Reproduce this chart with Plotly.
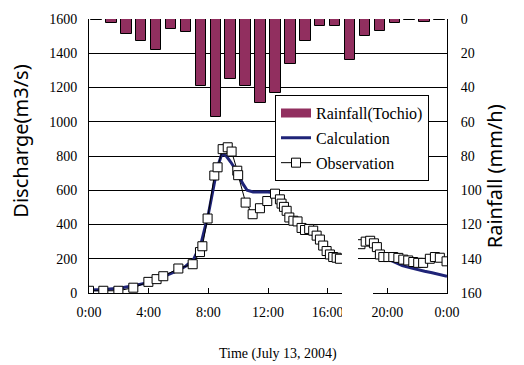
import plotly.graph_objects as go

# ---- data ----
rain_time = [h + 0.5 for h in range(24)]
rain_mm = [0.5, 2.5, 9, 13, 18, 6, 7.5, 39, 57, 35, 39, 49, 43, 26, 13, 4, 4, 24, 10, 7, 2.5, 0.5, 2, 0.5]

calc_time = [0, 1, 2, 3, 4, 5, 6, 6.5, 7, 7.5, 8, 8.3, 8.6, 8.9, 9.2, 9.5, 9.9, 10.3, 10.6, 11, 12, 12.5,
             12.8, 13.1, 13.5, 14, 14.5, 15, 15.5, 16, 16.5, 16.8, None,
             19.2, 19.6, 20, 20.5, 21, 21.5, 22, 22.5, 23, 23.5, 24]
calc_q = [18, 20, 28, 42, 62, 95, 133, 158, 195, 285, 460, 600, 730, 812, 800, 765, 711, 640, 600, 590, 590, 585,
          545, 495, 445, 410, 375, 340, 295, 250, 215, 195, None,
          232, 215, 198, 178, 160, 148, 136, 127, 118, 108, 98]

obs_time = [0, 0.96, 1.97, 2.97, 3.98, 4.53, 4.98, 5.99, 6.95, 7.44, 7.6, 7.95, 8.4, 8.62, 8.96, 9.3, 9.56,
            9.94, 10.0, 10.5, 10.97, 11.46, 11.95, 12.47, 12.8, 12.91, 13.07, 13.25, 13.43, 13.7, 13.98,
            14.25, 14.48, 14.76, 15.03, 15.26, 15.48, 15.7, 15.93, 16.15, 16.37, 16.6, 16.82, None,
            18.2, 18.55, 18.85, 19.1, 19.3, 19.5, 19.73, 20.07, 20.4, 20.74, 21.07, 21.4, 21.74, 22.07,
            22.4, 22.85, 23.19, 23.52, 23.97]
obs_q = [13, 13, 13, 31, 65, 81, 98, 143, 168, 239, 273, 435, 686, 734, 840, 851, 826,
         714, 688, 528, 460, 495, 537, 580, 547, 522, 503, 480, 441, 422, 418,
         380, 368, 374, 364, 335, 312, 277, 245, 225, 210, 206, 200, None,
         285, 300, 305, 290, 268, 225, 210, 210, 210, 205, 195, 190, 181, 176,
         176, 200, 210, 206, 185]

tick_vals = [0, 4, 8, 12, 16, 20, 24]
tick_text = ["0:00", "4:00", "8:00", "12:00", "16:00", "20:00", "0:00"]

SERIF = "Liberation Serif"
SANS = "Noto Sans"
BAR_COLOR = "#912F5F"

fig = go.Figure()
fig.add_trace(go.Bar(x=rain_time, y=rain_mm, yaxis="y2", name="Rainfall(Tochio)",
                     width=0.7, marker=dict(color=BAR_COLOR, line=dict(color="black", width=1)),
                     showlegend=False))
# legend-only entry giving the wide rectangle key of the bars
fig.add_trace(go.Scatter(x=[None], y=[None], yaxis="y2", mode="lines", name="Rainfall(Tochio)",
                         line=dict(color=BAR_COLOR, width=9), legendgroup="a", hoverinfo="skip"))
fig.add_trace(go.Scatter(x=calc_time, y=calc_q, mode="lines", name="Calculation",
                         line=dict(color="#1F2478", width=3), connectgaps=False, legendgroup="b"))
fig.add_trace(go.Scatter(x=obs_time, y=obs_q, mode="lines+markers", name="Observation",
                         line=dict(color="black", width=1),
                         marker=dict(symbol="square", size=9, color="white",
                                     line=dict(color="black", width=1)),
                         connectgaps=False, legendgroup="c"))

L, R, T, B = 89, 447, 16, 293
W, H = 524, 365

def px(x):
    return (x - L) / (R - L)

def py(y):
    return (B - y) / (B - T)

fig.update_layout(
    width=W, height=H,
    margin=dict(l=L, r=W - R, t=T, b=H - B),
    plot_bgcolor="white", paper_bgcolor="white",
    showlegend=True,
    bargap=0,
    legend=dict(x=px(275), y=py(93), xanchor="left", yanchor="top",
                bordercolor="black", borderwidth=1, bgcolor="white",
                font=dict(family=SERIF, size=16, color="black"),
                tracegroupgap=1, traceorder="grouped"),
    xaxis=dict(range=[0, 24], tickvals=tick_vals, ticktext=tick_text, ticks="inside", ticklen=5,
               tickcolor="black", showline=True, linecolor="black", linewidth=1, showgrid=False,
               zeroline=False, tickfont=dict(family=SERIF, size=14, color="black"),
               ticklabelstandoff=6),
    yaxis=dict(range=[0, 1600], dtick=200, showgrid=True, gridcolor="black", gridwidth=1,
               showline=True, linecolor="black", linewidth=1, zeroline=False, ticks="",
               tickfont=dict(family=SERIF, size=14, color="black"), ticklabelstandoff=8),
    yaxis2=dict(range=[160, 0], dtick=20, overlaying="y", side="right", showgrid=False,
                showline=True, linecolor="black", linewidth=1, zeroline=False, ticks="",
                tickfont=dict(family=SERIF, size=14, color="black"), ticklabelstandoff=10),
    annotations=[
        dict(text="Discharge(m3/s)", x=px(21), y=py(140), xref="paper", yref="paper",
             xanchor="center", yanchor="middle",
             showarrow=False, textangle=-90, font=dict(family=SANS, size=20, color="black")),
        dict(text="Rainfall (mm/h)", x=px(494), y=py(175), xref="paper", yref="paper",
             xanchor="center", yanchor="middle",
             showarrow=False, textangle=-90, font=dict(family=SANS, size=20, color="black")),
        dict(text="Time (July 13, 2004)", x=px(278), y=py(355), xref="paper", yref="paper",
             xanchor="center", yanchor="middle",
             showarrow=False, font=dict(family=SERIF, size=14, color="black")),
    ],
    shapes=[
        dict(type="rect", xref="paper", yref="paper", x0=px(342), x1=px(358), y0=py(230), y1=py(330),
             fillcolor="white", line=dict(width=0), layer="above"),
        dict(type="rect", xref="paper", yref="paper", x0=px(357), x1=px(373), y0=py(268), y1=py(300),
             fillcolor="white", line=dict(width=0), layer="above"),
    ],
)

fig.write_html("out.html")
